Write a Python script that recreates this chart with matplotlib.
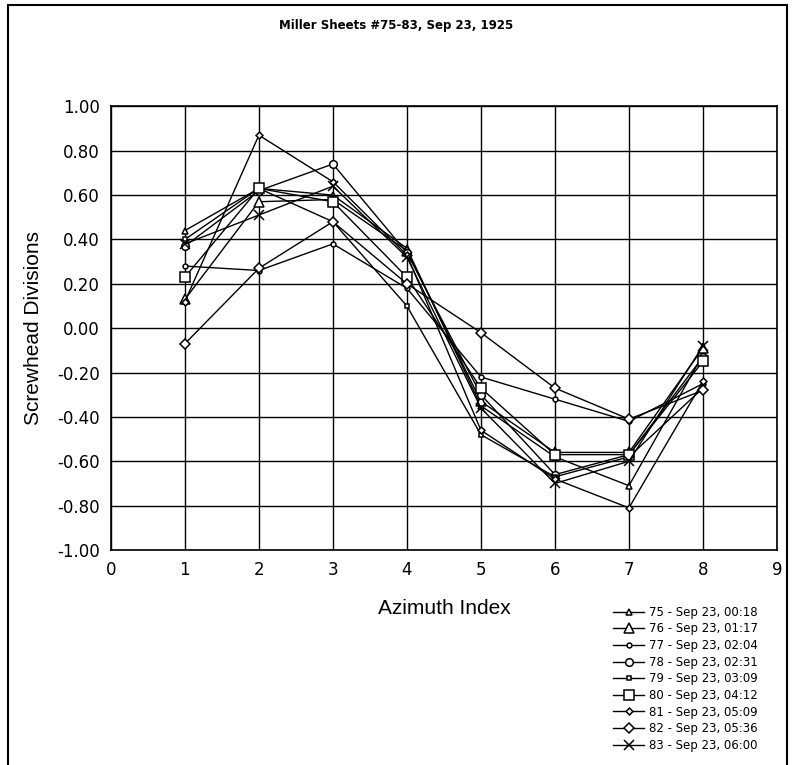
import matplotlib
matplotlib.use("Agg")
import matplotlib.pyplot as plt
from matplotlib.patches import Rectangle

azimuth = [1, 2, 3, 4, 5, 6, 7, 8]

labels = [
    "75 - Sep 23, 00:18",
    "76 - Sep 23, 01:17",
    "77 - Sep 23, 02:04",
    "78 - Sep 23, 02:31",
    "79 - Sep 23, 03:09",
    "80 - Sep 23, 04:12",
    "81 - Sep 23, 05:09",
    "82 - Sep 23, 05:36",
    "83 - Sep 23, 06:00",
]

s75 = [0.44, 0.63, 0.60, 0.36, -0.35, -0.58, -0.71, -0.12]
s76 = [0.13, 0.57, 0.58, 0.35, -0.33, -0.56, -0.56, -0.09]
s77 = [0.28, 0.26, 0.38, 0.18, -0.22, -0.32, -0.42, -0.25]
s78 = [0.37, 0.62, 0.74, 0.34, -0.30, -0.66, -0.57, -0.13]
s79 = [0.40, 0.63, 0.48, 0.10, -0.48, -0.67, -0.58, -0.27]
s80 = [0.23, 0.63, 0.57, 0.23, -0.27, -0.57, -0.57, -0.15]
s81 = [0.12, 0.87, 0.66, 0.33, -0.46, -0.68, -0.81, -0.24]
s82 = [-0.07, 0.27, 0.48, 0.20, -0.02, -0.27, -0.41, -0.28]
s83 = [0.38, 0.51, 0.64, 0.32, -0.36, -0.70, -0.60, -0.08]

series = [s75, s76, s77, s78, s79, s80, s81, s82, s83]
markers = ["^", "^", "o", "o", "s", "s", "D", "D", "x"]
sizes = [4.5, 7, 3.5, 5.5, 3.5, 7, 3.5, 5.5, 7]

fig = plt.figure(figsize=(7.92, 7.65), dpi=100)
ax = fig.add_axes([0.140, 0.281, 0.841, 0.580])

for ys, lab, m, ms in zip(series, labels, markers, sizes):
    ax.plot(azimuth, ys, color="black", lw=1, marker=m, markersize=ms,
            markerfacecolor="white" if m != "x" else "black",
            markeredgecolor="black", markeredgewidth=1.1, label=lab)

ax.set_xlim(0, 9)
ax.set_ylim(-1.0, 1.0)
ax.set_xticks(range(10))
ax.set_yticks([i / 5 for i in range(-5, 6)])
ax.set_yticklabels([f"{v / 5:.2f}" for v in range(-5, 6)])
ax.grid(True, color="black", lw=1)
ax.tick_params(length=0, labelsize=12, pad=8)
for sp in ax.spines.values():
    sp.set_linewidth(1.2)

ax.set_xlabel("Azimuth Index", fontsize=15, family="Liberation Sans", labelpad=14)
ax.set_ylabel("Screwhead Divisions", fontsize=15, family="Liberation Sans", labelpad=10)
fig.text(0.5, 0.967, "Miller Sheets #75-83, Sep 23, 1925", ha="center", va="center",
         fontsize=8.5, fontweight="bold")

fig.legend(loc="upper left", bbox_to_anchor=(0.766, 0.216), frameon=False,
           fontsize=8.5, handlelength=2.7, labelspacing=0.31, borderpad=0,
           handletextpad=0.4)

# outer frame of the chart area
fig.patches.append(Rectangle((0.010, -0.01), 0.984, 1.003, transform=fig.transFigure,
                             fill=False, edgecolor="black", lw=1.5))

fig.savefig("out.png", dpi=100)
